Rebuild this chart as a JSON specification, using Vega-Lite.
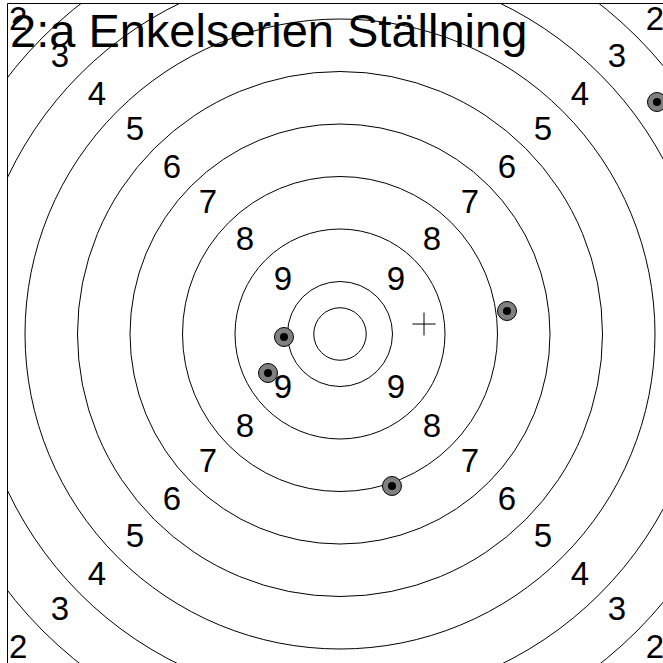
{
  "$schema": "https://vega.github.io/schema/vega-lite/v6.json",
  "width": 656,
  "height": 660,
  "autosize": {"type": "none"},
  "padding": {"left": 7, "top": 3, "right": 0, "bottom": 0},
  "background": "white",
  "config": {"view": {"stroke": null}},
  "datasets": {
    "rings": [
      {"r": 0.5}, {"r": 1}, {"r": 2}, {"r": 3}, {"r": 4}, {"r": 5},
      {"r": 6}, {"r": 7}, {"r": 8}, {"r": 9}
    ],
    "labels": [
      {"x": -1.086, "y": 1.029, "label": "9"}, {"x": 1.067, "y": 1.029, "label": "9"},
      {"x": -1.086, "y": -1.029, "label": "9"}, {"x": 1.067, "y": -1.029, "label": "9"},
      {"x": -1.81, "y": 1.79, "label": "8"}, {"x": 1.752, "y": 1.79, "label": "8"},
      {"x": -1.81, "y": -1.77, "label": "8"}, {"x": 1.752, "y": -1.77, "label": "8"},
      {"x": -2.514, "y": 2.495, "label": "7"}, {"x": 2.476, "y": 2.495, "label": "7"},
      {"x": -2.514, "y": -2.44, "label": "7"}, {"x": 2.476, "y": -2.44, "label": "7"},
      {"x": -3.2, "y": 3.16, "label": "6"}, {"x": 3.18, "y": 3.16, "label": "6"},
      {"x": -3.2, "y": -3.16, "label": "6"}, {"x": 3.18, "y": -3.16, "label": "6"},
      {"x": -3.905, "y": 3.886, "label": "5"}, {"x": 3.867, "y": 3.886, "label": "5"},
      {"x": -3.905, "y": -3.867, "label": "5"}, {"x": 3.867, "y": -3.867, "label": "5"},
      {"x": -4.63, "y": 4.55, "label": "4"}, {"x": 4.571, "y": 4.55, "label": "4"},
      {"x": -4.63, "y": -4.59, "label": "4"}, {"x": 4.571, "y": -4.59, "label": "4"},
      {"x": -5.333, "y": 5.276, "label": "3"}, {"x": 5.276, "y": 5.276, "label": "3"},
      {"x": -5.333, "y": -5.257, "label": "3"}, {"x": 5.276, "y": -5.257, "label": "3"},
      {"x": -6.13, "y": 5.98, "label": "2"}, {"x": 6.0, "y": 5.98, "label": "2"},
      {"x": -6.13, "y": -5.98, "label": "2"}, {"x": 6.0, "y": -5.98, "label": "2"}
    ],
    "shots": [
      {"x": -1.067, "y": -0.057},
      {"x": -1.371, "y": -0.743},
      {"x": 3.181, "y": 0.438},
      {"x": 0.99, "y": -2.895},
      {"x": 6.038, "y": 4.419}
    ],
    "mean": [{"x": 1.6, "y": 0.19}],
    "titleText": [{"x": -6.286, "y": 5.467, "text": "2:a Enkelserien Ställning"}]
  },
  "layer": [
    {
      "data": {"name": "rings"},
      "mark": {"type": "point", "shape": "circle", "filled": false, "stroke": "black", "strokeWidth": 1, "opacity": 1, "clip": true},
      "encoding": {
        "x": {"datum": 0, "type": "quantitative",
          "scale": {"domain": [-6.3429, 6.1524], "nice": false, "zero": false},
          "axis": {"orient": "top", "title": null, "labels": false, "ticks": false, "grid": false, "domain": true, "domainColor": "black", "domainWidth": 1}},
        "y": {"datum": 0, "type": "quantitative",
          "scale": {"domain": [-6.2667, 6.3048], "nice": false, "zero": false},
          "axis": {"orient": "left", "title": null, "labels": false, "ticks": false, "grid": false, "domain": true, "domainColor": "black", "domainWidth": 1}},
        "size": {"field": "r", "type": "quantitative",
          "scale": {"type": "pow", "exponent": 2, "domain": [0, 10], "range": [0, 1102500], "zero": true},
          "legend": null}
      }
    },
    {
      "data": {"name": "labels"},
      "mark": {"type": "text", "font": "Liberation Sans", "fontSize": 33, "align": "center", "baseline": "middle", "color": "black"},
      "encoding": {
        "x": {"field": "x", "type": "quantitative"},
        "y": {"field": "y", "type": "quantitative"},
        "text": {"field": "label", "type": "nominal"}
      }
    },
    {
      "data": {"name": "shots"},
      "mark": {"type": "point", "shape": "circle", "filled": true, "fill": "#808080", "stroke": "black", "strokeWidth": 1, "size": 361, "opacity": 1},
      "encoding": {
        "x": {"field": "x", "type": "quantitative"},
        "y": {"field": "y", "type": "quantitative"}
      }
    },
    {
      "data": {"name": "shots"},
      "mark": {"type": "point", "shape": "circle", "filled": true, "fill": "black", "strokeWidth": 0, "size": 64, "opacity": 1},
      "encoding": {
        "x": {"field": "x", "type": "quantitative"},
        "y": {"field": "y", "type": "quantitative"}
      }
    },
    {
      "data": {"name": "mean"},
      "mark": {"type": "point", "shape": "M-1,0L1,0M0,-1L0,1", "filled": false, "stroke": "black", "strokeWidth": 1, "size": 529, "opacity": 1},
      "encoding": {
        "x": {"field": "x", "type": "quantitative"},
        "y": {"field": "y", "type": "quantitative"}
      }
    },
    {
      "data": {"name": "titleText"},
      "mark": {"type": "text", "font": "Liberation Sans", "fontSize": 47, "align": "left", "baseline": "alphabetic", "color": "black"},
      "encoding": {
        "x": {"field": "x", "type": "quantitative"},
        "y": {"field": "y", "type": "quantitative"},
        "text": {"field": "text", "type": "nominal"}
      }
    }
  ]
}
